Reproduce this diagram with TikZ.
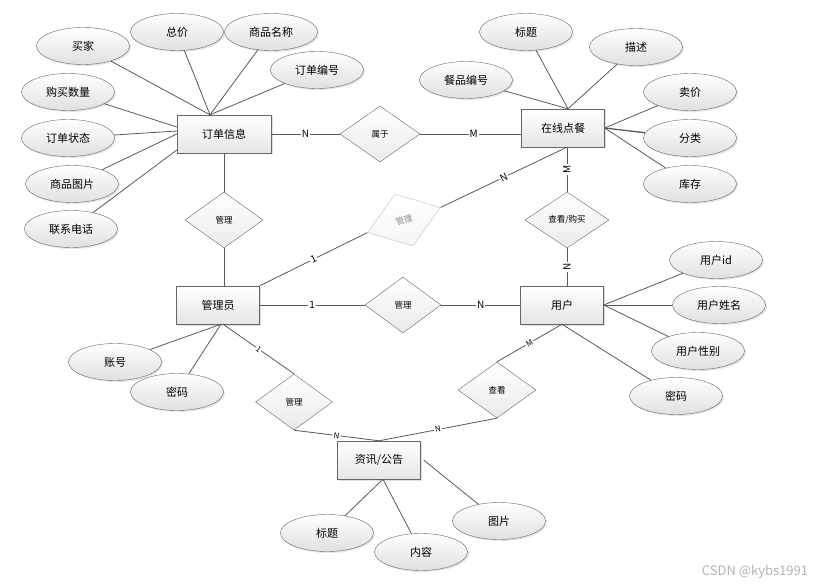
\documentclass[tikz,border=0pt]{standalone}
\usepackage{fontspec}
\newfontfamily\cjk{Noto Sans CJK SC}
\usetikzlibrary{shapes.geometric,shadows}

\begin{document}
\begin{tikzpicture}[x=1pt,y=-1pt,
  font=\cjk\fontsize{11}{13}\selectfont,
  entity/.style={rectangle,draw=black!60,top color=white,bottom color=black!10,
    minimum width=83pt,minimum height=38pt,inner sep=0pt,
    drop shadow={opacity=0.25,shadow xshift=1.5pt,shadow yshift=-1.5pt}},
  attr/.style={ellipse,draw=black!60,top color=white,bottom color=black!12,
    minimum width=93pt,minimum height=37pt,inner sep=0pt,
    drop shadow={opacity=0.2,shadow xshift=1.5pt,shadow yshift=-1.5pt}},
  rel/.style={diamond,draw=black!60,top color=white,bottom color=black!8,
    minimum width=78pt,minimum height=56pt,inner sep=0pt,
    font=\cjk\fontsize{8.5}{10}\selectfont},
  conn/.style={draw=black!65,line width=0.8pt},
  lbl/.style={fill=white,inner sep=1pt,font=\cjk\fontsize{10}{12}\selectfont},
  slbl/.style={lbl,sloped,font=\cjk\fontsize{8}{10}\selectfont}]
  \useasboundingbox (0,0) rectangle (833,588);

  % entities
  \node[entity,minimum width=94pt] (dd) at (224,134) {订单信息};
  \node[entity] (zx) at (563,128) {在线点餐};
  \node[entity] (gly) at (218,305) {管理员};
  \node[entity] (yh) at (562,305) {用户};
  \node[entity] (zxgg) at (379,460) {资讯/公告};

  % relations
  \node[rel,minimum width=80pt] (sy) at (380,134) {属于};
  \node[rel] (gl1) at (224,220) {管理};
  \node[rel,draw=black!25,bottom color=black!4,text=black!45,rotate=19,
    minimum width=77pt,minimum height=55pt] (gm) at (404,220) {管理};
  \node[rel,minimum width=84pt] (ck) at (567,220) {查看/购买};
  \node[rel,minimum width=76pt] (gl2) at (403,305) {管理};
  \node[rel,minimum width=77pt] (gl3) at (294,402) {管理};
  \node[rel] (kk) at (497,390) {查看};

  % attributes of 订单信息
  \node[attr] (maijia) at (83,46) {买家};
  \node[attr] (zongjia) at (177,32) {总价};
  \node[attr] (spmc) at (271,32) {商品名称};
  \node[attr] (ddbh) at (317,70) {订单编号};
  \node[attr] (gmsl) at (68,92) {购买数量};
  \node[attr] (ddzt) at (68,138) {订单状态};
  \node[attr] (sptp) at (72,184) {商品图片};
  \node[attr] (lxdh) at (71,229) {联系电话};

  % attributes of 在线点餐
  \node[attr] (biaoti) at (526,32) {标题};
  \node[attr] (miaoshu) at (636,47) {描述};
  \node[attr] (cpbh) at (466,80) {餐品编号};
  \node[attr] (maijia2) at (690,92) {卖价};
  \node[attr] (fenlei) at (690,138) {分类};
  \node[attr] (kucun) at (690,184) {库存};

  % attributes of 用户
  \node[attr] (yhid) at (716,260) {用户id};
  \node[attr] (yhxm) at (719,305) {用户姓名};
  \node[attr] (yhxb) at (698,351) {用户性别};
  \node[attr] (mima2) at (676,396) {密码};

  % attributes of 管理员
  \node[attr] (zhanghao) at (115,362) {账号};
  \node[attr] (mima1) at (177,392) {密码};

  % attributes of 资讯/公告
  \node[attr] (biaoti2) at (327,533) {标题};
  \node[attr] (neirong) at (421,552) {内容};
  \node[attr] (tupian) at (499,521) {图片};

  % attribute links
  \draw[conn] (maijia) -- ([xshift=-14pt]dd.north);
  \draw[conn] (zongjia) -- ([xshift=-14pt]dd.north);
  \draw[conn] (spmc) -- ([xshift=-14pt]dd.north);
  \draw[conn] (ddbh) -- ([xshift=-14pt]dd.north);
  \draw[conn] (gmsl) -- ([yshift=7pt]dd.west);
  \draw[conn] (ddzt) -- ([yshift=3pt]dd.west);
  \draw[conn] (sptp) -- (dd.west);
  \draw[conn] (lxdh) -- ([yshift=-16pt]dd.west);

  \draw[conn] (biaoti) -- ([xshift=5pt]zx.north);
  \draw[conn] (miaoshu) -- ([xshift=5pt]zx.north);
  \draw[conn] (cpbh) -- ([xshift=5pt]zx.north);
  \draw[conn] (maijia2) -- (zx.east);
  \draw[conn,line width=1.3pt] (fenlei) -- (zx.east);
  \draw[conn] (kucun) -- (zx.east);

  \draw[conn] (yhid) -- (yh.east);
  \draw[conn] (yhxm) -- (yh.east);
  \draw[conn] (yhxb) -- (yh.east);
  \draw[conn] (mima2) -- (yh.south);

  \draw[conn] (zhanghao) -- ([xshift=3pt]gly.south);
  \draw[conn] (mima1) -- ([xshift=3pt]gly.south);

  \draw[conn] (biaoti2) -- ([xshift=4pt]zxgg.south);
  \draw[conn] (neirong) -- ([xshift=4pt]zxgg.south);
  \draw[conn] (tupian) -- ([xshift=3pt]zxgg.east);

  % relation links
  \draw[conn] (dd.east) -- node[lbl] {N} (sy.west);
  \draw[conn] (sy.east) -- node[lbl,pos=0.53] {M} (sy.east -| zx.west);
  \draw[conn] (dd.south) -- (gl1.north);
  \draw[conn] (gl1.south) -- (gl1.south |- gly.north);
  \draw[conn] (ck.north) -- node[lbl,rotate=90] {M} (ck.north |- zx.south);
  \draw[conn] (ck.south) -- node[lbl,rotate=90] {N} (ck.south |- yh.north);
  \draw[conn] (gm.east) -- node[lbl,sloped] {N} ([xshift=4pt]zx.south);
  \draw[conn] (gly.north east) -- node[lbl,sloped] {1} (gm.west);
  \draw[conn] (gly.east) -- node[lbl] {1} (gl2.west);
  \draw[conn] (gl2.east) -- node[lbl] {N} (yh.west);
  \draw[conn] (yh.south) -- node[slbl] {M} (kk.north);
  \draw[conn] (kk.south) -- node[slbl] {N} (zxgg.north);
  \draw[conn] (gl3.south) -- node[slbl] {N} (zxgg.north);
  \draw[conn] ([xshift=5pt]gly.south) -- node[slbl] {1} (gl3.north);

  \node[text=black!30,font=\cjk\fontsize{13}{15}\selectfont] (wm) at (755,572) {CSDN @kybs1991};
\end{tikzpicture}
\end{document}
